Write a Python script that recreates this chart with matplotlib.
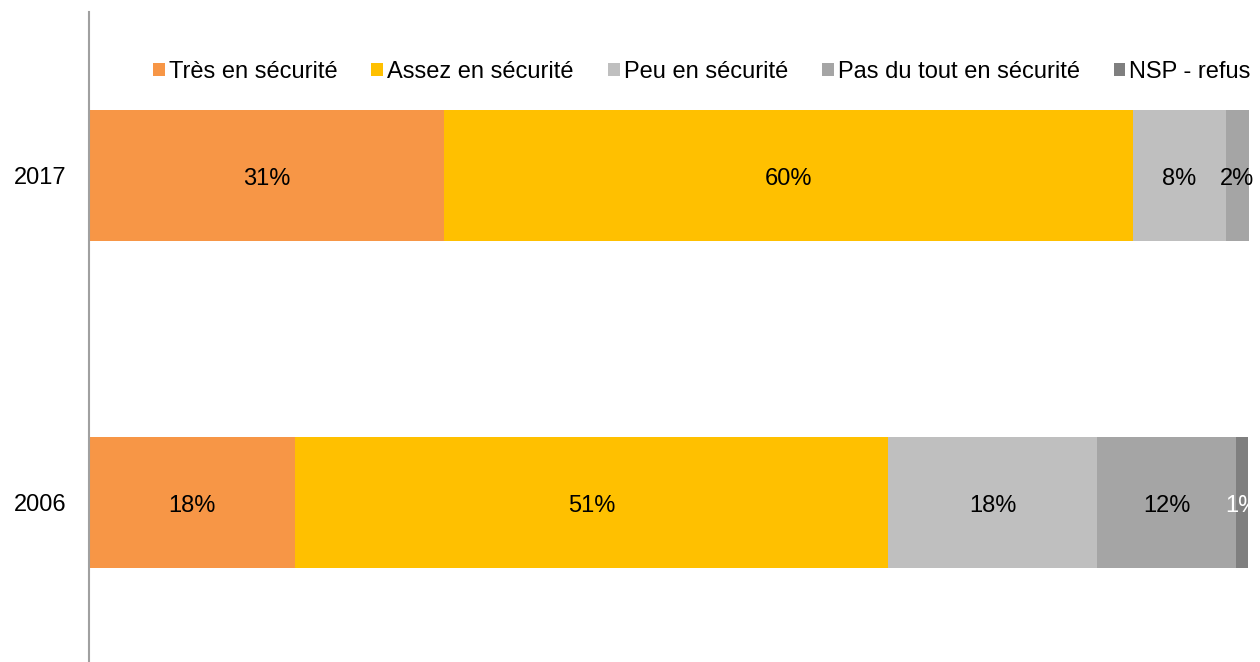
import numpy as np
import matplotlib.pyplot as plt
from matplotlib.patches import Patch

plt.rcParams['font.family'] = ['Liberation Sans', 'DejaVu Sans']

annees = ['2006', '2017']
categories = ['Très en sécurité', 'Assez en sécurité', 'Peu en sécurité',
              'Pas du tout en sécurité', 'NSP - refus']
valeurs = {
    'Très en sécurité': [17.8, 30.6],
    'Assez en sécurité': [51.1, 59.4],
    'Peu en sécurité': [18.0, 8.0],
    'Pas du tout en sécurité': [12.0, 2.0],
    'NSP - refus': [1.0, 0.0],
}
etiquettes = {
    'Très en sécurité': ['18%', '31%'],
    'Assez en sécurité': ['51%', '60%'],
    'Peu en sécurité': ['18%', '8%'],
    'Pas du tout en sécurité': ['12%', '2%'],
    'NSP - refus': ['1%', ''],
}
couleurs = ['#F79646', '#FFC000', '#BFBFBF', '#A5A5A5', '#7F7F7F']
couleurs_texte = ['#000000', '#000000', '#000000', '#000000', '#FFFFFF']

W, H = 1260, 662
fig = plt.figure(figsize=(W / 100, H / 100), dpi=100)
ax = fig.add_axes([89 / W, -4 / H, 1160 / W, 654 / H])

y = np.arange(len(annees))
gauche = np.zeros(len(annees))
for cat, coul, ct in zip(categories, couleurs, couleurs_texte):
    v = np.array(valeurs[cat])
    ax.barh(y, v, left=gauche, height=0.4, color=coul, label=cat)
    for i in range(len(annees)):
        if etiquettes[cat][i]:
            ax.text(gauche[i] + v[i] / 2, y[i] - 0.01, etiquettes[cat][i],
                    ha='center', va='center', fontsize=17, color=ct,
                    clip_on=False)
    gauche += v

ax.set_xlim(0, 100)
ax.set_ylim(-0.5, 1.5)
ax.set_yticks(y)
ax.set_yticklabels(annees, fontsize=17)
ax.tick_params(axis='y', length=0, pad=16)
ax.set_xticks([])
for s in ['top', 'right', 'bottom']:
    ax.spines[s].set_visible(False)
ax.spines['left'].set_color('#A0A0A0')
ax.spines['left'].set_linewidth(1.5)

poignees = [Patch(facecolor=c, edgecolor='none') for c in couleurs]
fig.legend(poignees, categories, loc='center left', ncol=5,
           bbox_to_anchor=(153 / W, 1 - 72 / H), frameon=False,
           fontsize=17, handlelength=0.5, handleheight=0.5,
           handletextpad=0.17, columnspacing=1.44, borderpad=0, borderaxespad=0)

fig.savefig('out.png', dpi=100)
